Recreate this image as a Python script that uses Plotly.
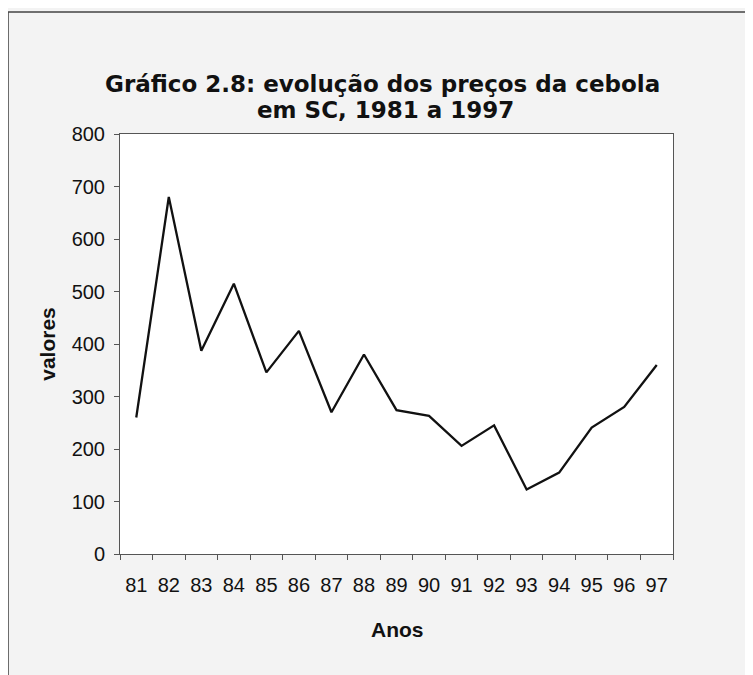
import plotly.graph_objects as go

anos = ["81", "82", "83", "84", "85", "86", "87", "88", "89", "90", "91", "92", "93", "94", "95", "96", "97"]
valores = [260, 680, 387, 515, 346, 425, 270, 380, 274, 263, 206, 245, 123, 155, 241, 280, 360]
y_ticks = [0, 100, 200, 300, 400, 500, 600, 700, 800]
titulo = ["Gráfico 2.8: evolução dos preços da cebola", "em SC, 1981 a 1997"]

FONT = "Liberation Sans, Arial, sans-serif"
TFONT = "DejaVu Sans, Liberation Sans, sans-serif"

fig = go.Figure()
fig.add_trace(go.Scatter(
    x=anos, y=valores, mode="lines",
    line=dict(color="#111111", width=2.3),
    showlegend=False, hoverinfo="x+y",
))

axis_common = dict(
    showgrid=False, zeroline=False,
    showline=True, linecolor="#555555", linewidth=1, mirror=True,
    ticks="outside", ticklen=5, tickcolor="#555555", tickwidth=1,
    tickfont=dict(family=FONT, size=20, color="#111111"),
)

fig.update_xaxes(type="category", categoryorder="array", categoryarray=anos,
                 range=[-0.5, len(anos) - 0.5], tickson="boundaries",
                 ticklabelstandoff=13, **axis_common)
fig.update_yaxes(range=[0, 800], tickvals=y_ticks, ticklabelstandoff=5,
                 title=dict(text="<b>valores</b>", standoff=10,
                            font=dict(family=FONT, size=21, color="#111111")),
                 **axis_common)

fig.update_layout(
    width=745, height=667,
    margin=dict(l=112, r=80, t=126, b=121, autoexpand=False),
    paper_bgcolor="#f3f3f3",
    plot_bgcolor="#ffffff",
    font=dict(family=FONT, color="#111111"),
    shapes=[dict(type="rect", xref="paper", yref="paper",
                 x0=-0.2025, x1=1.3, y0=-0.4, y1=1.2905,
                 line=dict(color="#444444", width=1.5), layer="below")],
    annotations=[
        dict(text="<b>" + titulo[0] + "</b>",
             xref="paper", yref="paper", x=0.474, y=1.12,
             xanchor="center", yanchor="middle", showarrow=False,
             font=dict(family=TFONT, size=23, color="#111111")),
        dict(text="<b>" + titulo[1] + "</b>",
             xref="paper", yref="paper", x=0.48, y=1.0575,
             xanchor="center", yanchor="middle", showarrow=False,
             font=dict(family=TFONT, size=23, color="#111111")),
        dict(text="<b>Anos</b>", xref="paper", yref="paper", x=0.501, y=-0.1786,
             xanchor="center", yanchor="middle", showarrow=False,
             font=dict(family=FONT, size=21, color="#111111")),
    ],
)

fig.write_html("out.html")
